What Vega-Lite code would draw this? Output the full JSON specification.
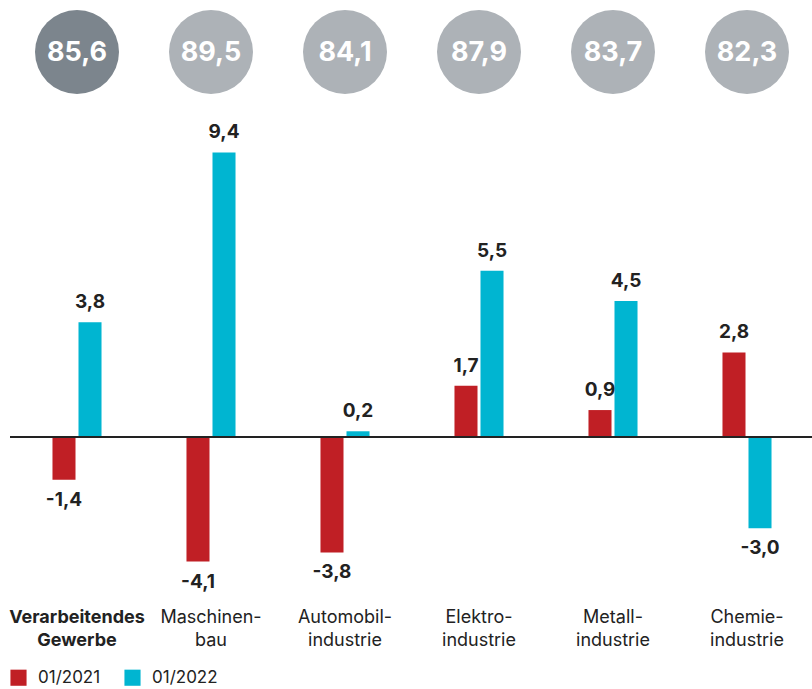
{
  "$schema": "https://vega.github.io/schema/vega-lite/v6.json",
  "padding": {"left": 8, "top": 0, "right": 0, "bottom": 0},
  "spacing": 0,
  "background": "white",
  "resolve": {"scale": {"color": "independent"}, "legend": {"color": "independent"}},
  "config": {
    "view": {"stroke": null},
    "locale": {"number": {"decimal": ",", "thousands": ".", "grouping": [3], "currency": ["", " €"], "minus": "-"}},
    "font": "Inter"
  },
  "datasets": {
    "circles": [
      {"category": "Verarbeitendes|Gewerbe", "value": 85.6, "highlight": "yes"},
      {"category": "Maschinen-|bau", "value": 89.5, "highlight": "no"},
      {"category": "Automobil-|industrie", "value": 84.1, "highlight": "no"},
      {"category": "Elektro-|industrie", "value": 87.9, "highlight": "no"},
      {"category": "Metall-|industrie", "value": 83.7, "highlight": "no"},
      {"category": "Chemie-|industrie", "value": 82.3, "highlight": "no"}
    ],
    "bars": [
      {"category": "Verarbeitendes|Gewerbe", "series": "01/2021", "value": -1.4},
      {"category": "Verarbeitendes|Gewerbe", "series": "01/2022", "value": 3.8},
      {"category": "Maschinen-|bau", "series": "01/2021", "value": -4.1},
      {"category": "Maschinen-|bau", "series": "01/2022", "value": 9.4},
      {"category": "Automobil-|industrie", "series": "01/2021", "value": -3.8},
      {"category": "Automobil-|industrie", "series": "01/2022", "value": 0.2},
      {"category": "Elektro-|industrie", "series": "01/2021", "value": 1.7},
      {"category": "Elektro-|industrie", "series": "01/2022", "value": 5.5},
      {"category": "Metall-|industrie", "series": "01/2021", "value": 0.9},
      {"category": "Metall-|industrie", "series": "01/2022", "value": 4.5},
      {"category": "Chemie-|industrie", "series": "01/2021", "value": 2.8},
      {"category": "Chemie-|industrie", "series": "01/2022", "value": -3.0}
    ]
  },
  "vconcat": [
    {
      "width": 804,
      "height": 104,
      "data": {"name": "circles"},
      "encoding": {
        "x": {
          "field": "category", "type": "nominal",
          "sort": ["Verarbeitendes|Gewerbe", "Maschinen-|bau", "Automobil-|industrie", "Elektro-|industrie", "Metall-|industrie", "Chemie-|industrie"],
          "scale": {"paddingInner": 0.634, "paddingOuter": 0.317},
          "axis": null
        }
      },
      "layer": [
        {
          "mark": {"type": "point", "shape": "circle", "filled": true, "size": 7056, "opacity": 1, "strokeWidth": 0},
          "encoding": {
            "color": {
              "field": "highlight", "type": "nominal",
              "scale": {"domain": ["yes", "no"], "range": ["#7c858d", "#adb2b7"]},
              "legend": null
            }
          }
        },
        {
          "mark": {"type": "text", "font": "Inter", "fontWeight": "bold", "fontSize": 27, "color": "white", "baseline": "middle", "align": "center", "dy": 1},
          "encoding": {"text": {"field": "value", "type": "quantitative", "format": ".1f"}}
        }
      ]
    },
    {
      "width": 804,
      "height": 500,
      "data": {"name": "bars"},
      "encoding": {
        "x": {
          "field": "category", "type": "nominal",
          "sort": ["Verarbeitendes|Gewerbe", "Maschinen-|bau", "Automobil-|industrie", "Elektro-|industrie", "Metall-|industrie", "Chemie-|industrie"],
          "scale": {"paddingInner": 0.634, "paddingOuter": 0.317},
          "axis": {
            "title": null, "domain": false, "ticks": false, "labelAngle": 0,
            "labelExpr": "split(datum.value, '|')",
            "labelFont": "Inter", "labelFontSize": 18, "labelColor": "#222222",
            "labelLineHeight": 23, "labelPadding": 4, "labelBaseline": "top",
            "labelFontWeight": {"condition": {"test": "datum.value == 'Verarbeitendes|Gewerbe'", "value": "bold"}, "value": "normal"}
          }
        },
        "xOffset": {"field": "series", "type": "nominal", "scale": {"paddingInner": 0.115, "paddingOuter": 0}},
        "y": {"field": "value", "type": "quantitative", "scale": {"domain": [-5.5, 11], "nice": false}, "axis": null}
      },
      "layer": [
        {
          "mark": {"type": "bar"},
          "encoding": {
            "color": {
              "field": "series", "type": "nominal",
              "scale": {"domain": ["01/2021", "01/2022"], "range": ["#c01f25", "#00b5d1"]},
              "legend": {
                "title": null, "orient": "none", "direction": "horizontal", "legendX": 0, "legendY": 565, "padding": 0,
                "symbolType": "square", "symbolSize": 260, "symbolStrokeWidth": 0,
                "labelFont": "Inter", "labelFontSize": 17, "labelColor": "#222222", "columnPadding": 23, "labelOffset": 11
              }
            }
          }
        },
        {
          "transform": [{"filter": "datum.value >= 0"}],
          "mark": {"type": "text", "font": "Inter", "fontWeight": "bold", "fontSize": 19, "color": "#222222", "baseline": "middle", "dy": -20},
          "encoding": {"text": {"field": "value", "type": "quantitative", "format": ".1f"}}
        },
        {
          "transform": [{"filter": "datum.value < 0"}],
          "mark": {"type": "text", "font": "Inter", "fontWeight": "bold", "fontSize": 19, "color": "#222222", "baseline": "middle", "dy": 20},
          "encoding": {"text": {"field": "value", "type": "quantitative", "format": ".1f"}}
        },
        {
          "mark": {"type": "rule", "color": "#222222", "strokeWidth": 1.5},
          "encoding": {"y": {"datum": 0}, "x": null, "xOffset": null}
        }
      ]
    }
  ]
}
